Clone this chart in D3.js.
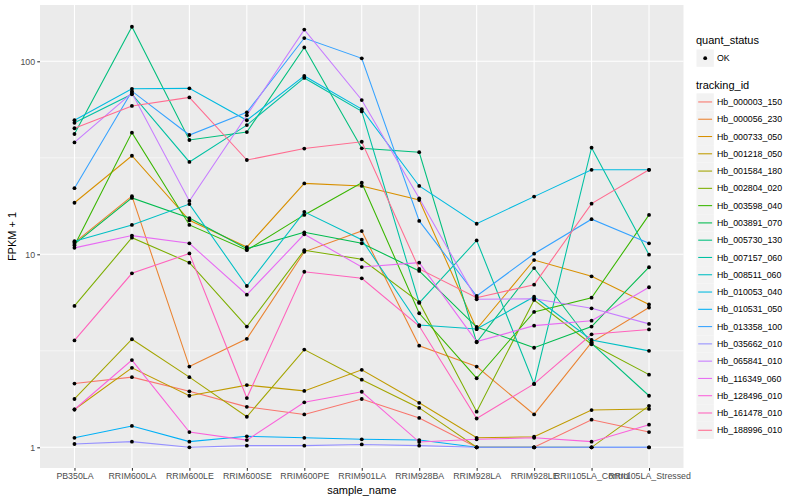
<!DOCTYPE html>
<html><head><meta charset="utf-8">
<script src="https://cdn.jsdelivr.net/npm/d3@7"></script>
<style>body{margin:0;background:#fff}svg{display:block}text{font-family:"Liberation Sans",Arial,Helvetica,sans-serif}</style>
</head><body><svg id="c" width="800" height="500"></svg>
<script>
const samples = ["PB350LA","RRIM600LA","RRIM600LE","RRIM600SE","RRIM600PE","RRIM901LA","RRIM928BA","RRIM928LA","RRIM928LE","RRII105LA_Control","RRII105LA_Stressed"];
const trackingIds = ["Hb_000003_150","Hb_000056_230","Hb_000733_050","Hb_001218_050","Hb_001584_180","Hb_002804_020","Hb_003598_040","Hb_003891_070","Hb_005730_130","Hb_007157_060","Hb_008511_060","Hb_010053_040","Hb_010531_050","Hb_013358_100","Hb_035662_010","Hb_065841_010","Hb_116349_060","Hb_128496_010","Hb_161478_010","Hb_188996_010"];
const colors = ["#F8766D","#EA8331","#D89000","#C09B00","#A3A500","#7CAE00","#39B600","#00BB4E","#00BF7D","#00C1A3","#00BFC4","#00BAE0","#00B0F6","#35A2FF","#9590FF","#C77CFF","#E76BF3","#FA62DB","#FF62BC","#FF6C90"];
const yTicks = [1, 10, 100];
const yMinor = [Math.pow(10,0.5), Math.pow(10,1.5)];

const hb_000003_150 = [2.14, 2.31, 1.95, 1.62, 1.48, 1.78, 1.42, 1.0, 1.0, 1.39, 1.20];
const hb_000056_230 = [11.5, 20.0, 2.62, 3.65, 10.3, 13.2, 3.36, 2.62, 1.48, 3.5, 5.3];
const hb_000733_050 = [18.5, 32.4, 15.0, 10.9, 23.3, 22.6, 19.1, 4.1, 9.34, 7.69, 5.5];
const hb_001218_050 = [1.57, 2.58, 1.85, 2.10, 1.96, 2.52, 1.70, 1.12, 1.135, 1.56, 1.58];
const hb_001584_180 = [1.78, 3.63, 2.31, 1.44, 3.21, 2.24, 1.60, 1.0, 1.0, 1.0, 1.64];
const hb_002804_020 = [5.4, 12.2, 9.05, 4.22, 10.5, 9.42, 5.65, 1.53, 5.8, 3.42, 2.38];
const hb_003598_040 = [11.1, 42.7, 14.2, 10.5, 16.0, 23.5, 4.95, 2.28, 5.03, 5.96, 16.0];
const hb_003891_070 = [11.3, 19.6, 15.4, 10.7, 13.0, 11.4, 8.2, 4.2, 3.28, 4.22, 8.57];
const hb_005730_130 = [42, 151, 39.1, 43, 118, 35.4, 33.8, 3.5, 8.49, 3.45, 1.85];
const hb_007157_060 = [48, 67.5, 30.1, 46.7, 82, 55, 5.6, 11.8, 2.13, 35.7, 9.95];
const hb_008511_060 = [11.7, 14.2, 18.2, 6.85, 16.6, 11.9, 4.3, 4.1, 6.03, 3.6, 3.16];
const hb_010053_040 = [49.5, 72, 72.4, 49.5, 84, 56.5, 22.6, 14.4, 19.9, 27.4, 27.4];
const hb_010531_050 = [1.12, 1.29, 1.07, 1.14, 1.12, 1.10, 1.09, 1.0, 1.0, 1.0, 1.0];
const hb_013358_100 = [22, 70, 41.5, 54.4, 132, 103.6, 14.9, 6.08, 10.07, 15.2, 11.4];
const hb_035662_010 = [1.04, 1.07, 1.0, 1.02, 1.02, 1.035, 1.02, 1.0, 1.0, 1.0, 1.0];
const hb_065841_010 = [38, 68.5, 18.9, 52.5, 146, 63, 19.5, 5.85, 5.88, 5.25, 4.36];
const hb_116349_060 = [10.8, 12.5, 11.4, 6.18, 12.7, 8.59, 9.05, 3.53, 4.27, 4.53, 6.75];
const hb_128496_010 = [1.57, 2.83, 1.20, 1.09, 1.71, 1.94, 1.065, 1.10, 1.12, 1.07, 1.31];
const hb_161478_010 = [3.58, 7.97, 10.1, 1.80, 8.12, 7.51, 4.25, 1.41, 2.13, 3.85, 4.08];
const hb_188996_010 = [45, 58.7, 65, 30.8, 35.3, 38.3, 8.4, 5.96, 6.96, 18.3, 27.4];

const seriesValues = [hb_000003_150,hb_000056_230,hb_000733_050,hb_001218_050,hb_001584_180,hb_002804_020,hb_003598_040,hb_003891_070,hb_005730_130,hb_007157_060,hb_008511_060,hb_010053_040,hb_010531_050,hb_013358_100,hb_035662_010,hb_065841_010,hb_116349_060,hb_128496_010,hb_161478_010,hb_188996_010];
const series = trackingIds.map((id,i)=>({id, color: colors[i], values: seriesValues[i].map((v,j)=>({s: samples[j], v}))}));

const svg = d3.select("#c");
const L = 40, R = 683.5, T = 5, B = 468;
const x = d3.scalePoint().domain(samples).range([L, R]).padding(0.6);
const y = d3.scaleLog().domain([Math.pow(10,-0.1072), Math.pow(10,2.2917)]).range([B, T]);

svg.append("rect").attr("x",L).attr("y",T).attr("width",R-L).attr("height",B-T).attr("fill","#EBEBEB");
const g = svg.append("g");
g.selectAll(".ymin").data(yMinor).enter().append("line")
  .attr("x1",L).attr("x2",R).attr("y1",d=>y(d)).attr("y2",d=>y(d)).attr("stroke","#fff").attr("stroke-width",0.53);
g.selectAll(".ymaj").data(yTicks).enter().append("line")
  .attr("x1",L).attr("x2",R).attr("y1",d=>y(d)).attr("y2",d=>y(d)).attr("stroke","#fff").attr("stroke-width",1.07);
g.selectAll(".xmaj").data(samples).enter().append("line")
  .attr("x1",d=>x(d)).attr("x2",d=>x(d)).attr("y1",T).attr("y2",B).attr("stroke","#fff").attr("stroke-width",1.07);

const line = d3.line().x(d=>x(d.s)).y(d=>y(d.v));
const sg = svg.append("g");
series.forEach(s=>{
  sg.append("path").datum(s.values).attr("d",line).attr("fill","none").attr("stroke",s.color).attr("stroke-width",1.07);
});
series.forEach(s=>{
  sg.selectAll(null).data(s.values).enter().append("circle")
    .attr("cx",d=>x(d.s)).attr("cy",d=>y(d.v)).attr("r",1.9).attr("fill","#000");
});

// axes
const yAxis = d3.axisLeft(y).tickValues(yTicks).tickFormat(d3.format("d")).tickSize(2.75).tickPadding(2.2);
const ya = svg.append("g").attr("transform",`translate(${L},0)`).call(yAxis);
const xAxis = d3.axisBottom(x).tickSize(2.75).tickPadding(2.2);
const xa = svg.append("g").attr("transform",`translate(0,${B})`).call(xAxis);
[ya,xa].forEach(a=>{
  a.select(".domain").remove();
  a.selectAll(".tick line").attr("stroke","#333").attr("stroke-width",1.07);
  a.selectAll(".tick text").attr("fill","#4D4D4D").style("font-size","8.8px");
});

svg.append("text").attr("x",(L+R)/2).attr("y",494).attr("text-anchor","middle").style("font-size","11px").attr("fill","#000").text("sample_name");
svg.append("text").attr("transform",`translate(16,${(T+B)/2}) rotate(-90)`).attr("text-anchor","middle").style("font-size","11px").attr("fill","#000").text("FPKM + 1");

// legend
const lg = svg.append("g");
lg.append("text").attr("x",696).attr("y",44).style("font-size","11px").text("quant_status");
lg.append("rect").attr("x",696.5).attr("y",49.5).attr("width",17.3).attr("height",17.3).attr("fill","#F2F2F2");
lg.append("circle").attr("cx",705.2).attr("cy",58.2).attr("r",1.9).attr("fill","#000");
lg.append("text").attr("x",717).attr("y",61.3).style("font-size","8.8px").attr("fill","#000").text("OK");
lg.append("text").attr("x",696).attr("y",89).style("font-size","11px").text("tracking_id");
const items = lg.selectAll(".item").data(series).enter().append("g")
  .attr("transform",(d,i)=>`translate(696.5,${93.3 + i*17.28})`);
items.append("rect").attr("width",17.3).attr("height",17.3).attr("fill","#F2F2F2");
items.append("line").attr("x1",1.7).attr("x2",15.6).attr("y1",8.65).attr("y2",8.65).attr("stroke",d=>d.color).attr("stroke-width",1.07);
items.append("text").attr("x",20.5).attr("y",11.8).style("font-size","8.8px").attr("fill","#000").text(d=>d.id);
</script></body></html>
